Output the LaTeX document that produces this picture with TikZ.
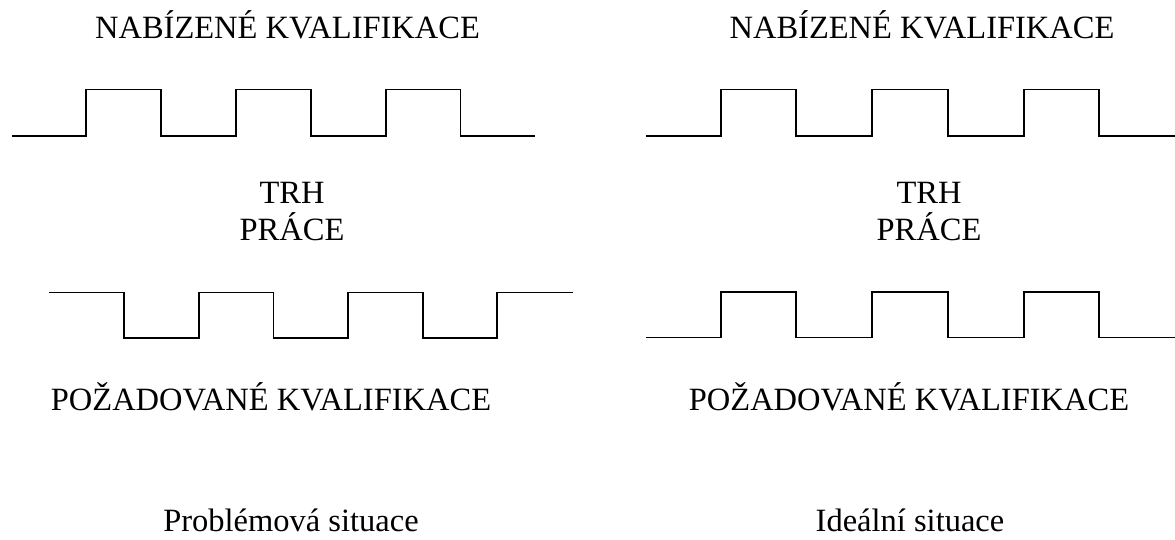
\documentclass[tikz,border=0pt]{standalone}
\usepackage{fontspec}
\setmainfont{Liberation Serif}
\begin{document}
\begin{tikzpicture}[x=1pt,y=-1pt,
  lbl/.style={anchor=base,inner sep=0pt,font=\fontsize{32.5}{39}\selectfont},
  wave/.style={line width=1.5pt,line join=miter}]
\useasboundingbox (0,0) rectangle (1175,539);

% --- left panel: mismatched qualifications ---
\node[lbl] (offL) at (287.5,38.5) {NABÍZENÉ KVALIFIKACE};
\draw[wave] (11.5,136) -- (86,136) -- (86,89.5) -- (161,89.5) -- (161,136)
  -- (236,136) -- (236,89.5) -- (311,89.5) -- (311,136)
  -- (386,136) -- (386,89.5) -- (460.5,89.5) -- (460.5,136) -- (535,136);
\node[lbl] (trhL) at (292,203) {TRH};
\node[lbl] (pracL) at (292,240) {PRÁCE};
\draw[wave] (49,292.5) -- (124,292.5) -- (124,338) -- (199,338) -- (199,292.5)
  -- (273.5,292.5) -- (273.5,338) -- (348,338) -- (348,292.5)
  -- (423,292.5) -- (423,338) -- (497,338) -- (497,292.5) -- (573,292.5);
\node[lbl] (reqL) at (271,410) {POŽADOVANÉ KVALIFIKACE};
\node[lbl] (capL) at (291,531) {Problémová situace};

% --- right panel: matching qualifications ---
\node[lbl] (offR) at (922,38.5) {NABÍZENÉ KVALIFIKACE};
\draw[wave] (646,136) -- (721,136) -- (721,89.5) -- (796,89.5) -- (796,136)
  -- (872,136) -- (872,89.5) -- (948,89.5) -- (948,136)
  -- (1024,136) -- (1024,89.5) -- (1099,89.5) -- (1099,136) -- (1176,136);
\node[lbl] (trhR) at (929,203) {TRH};
\node[lbl] (pracR) at (929,240) {PRÁCE};
\draw[wave] (646,337.5) -- (721,337.5) -- (721,292) -- (796,292) -- (796,337.5)
  -- (872,337.5) -- (872,292) -- (948,292) -- (948,337.5)
  -- (1024,337.5) -- (1024,292) -- (1099,292) -- (1099,337.5) -- (1176,337.5);
\node[lbl] (reqR) at (909,410) {POŽADOVANÉ KVALIFIKACE};
\node[lbl] (capR) at (910,531) {Ideální situace};
\end{tikzpicture}
\end{document}
